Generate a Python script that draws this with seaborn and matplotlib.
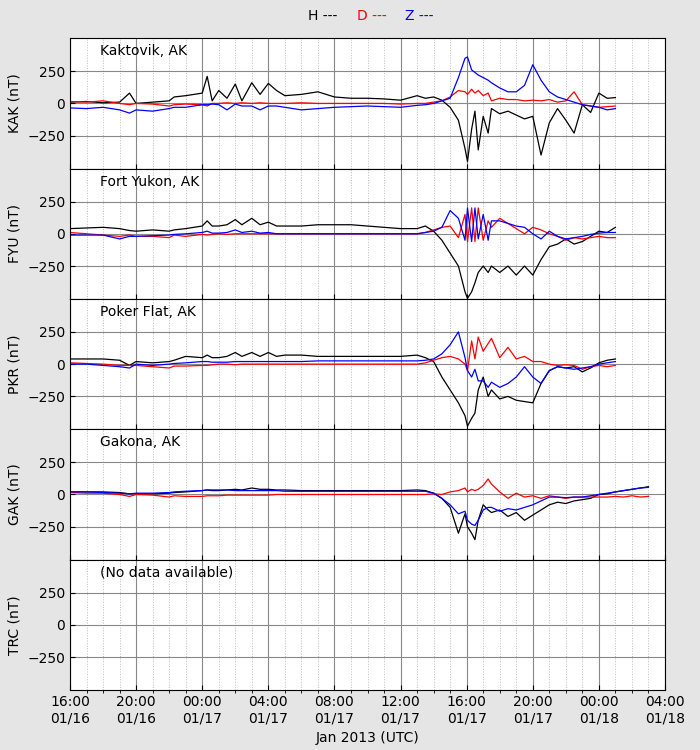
import numpy as np
import pandas as pd
import matplotlib
matplotlib.use("Agg")
import matplotlib.pyplot as plt
import seaborn as sns

nan = np.nan
# hours since 01/16 16:00 UTC
T = [0,1,2,3,3.6,4,5,6,6.3,7,8,8.3,8.6,9,9.5,10,10.4,11,11.5,12,12.5,13,14,15,16,17,18,19,20,21,
     21.5,22,22.5,23,23.5,23.9,24.05,24.3,24.5,24.7,25,25.3,25.5,26,26.5,27,27.5,28,28.5,29,29.5,30,
     30.5,31,31.5,32,32.5,33,33.5,34,34.5,35]

KAK_H = [10,15,5,10,80,0,10,20,50,60,80,210,20,100,40,150,20,160,70,155,100,60,70,90,50,40,40,35,25,60,
         40,50,25,-30,-130,-350,-450,-200,-60,-360,-100,-230,-40,-80,-60,-90,-120,-100,-400,-150,-40,-130,
         -230,-10,-70,80,40,45,nan,nan,nan,nan]
KAK_D = [15,10,20,0,-10,0,-5,-20,-10,-5,-10,-20,0,0,5,0,5,0,5,0,0,0,5,0,0,0,0,0,-5,0,
         0,10,20,50,100,90,70,110,80,100,60,80,20,40,30,30,20,25,20,30,10,20,
         90,-10,-20,-30,-25,-20,nan,nan,nan,nan]
KAK_Z = [-35,-40,-30,-50,-75,-50,-60,-40,-30,-30,-10,-10,-5,-10,-50,-5,-20,-20,-50,-20,-20,-30,-50,-40,-30,-25,-20,-25,-30,-15,
         -10,0,20,40,200,350,360,260,240,220,200,180,160,120,90,90,140,300,180,90,50,30,
         10,-10,-20,-30,-50,-40,nan,nan,nan,nan]

FYU_H = [40,45,50,40,25,20,30,20,30,40,60,100,60,60,70,110,70,120,70,90,60,60,60,70,70,70,60,50,40,40,
         60,20,-50,-150,-250,-450,-500,-450,-380,-300,-250,-300,-250,-300,-250,-320,-250,-320,-200,-100,-80,-40,
         -80,-60,-20,20,10,50,nan,nan,nan,nan]
FYU_D = [10,0,-10,-20,-10,-20,-20,-30,-10,-20,-5,-10,-5,0,-5,0,0,0,0,0,0,0,0,0,0,0,0,0,0,0,
         10,30,50,60,-30,150,-60,200,-60,200,-50,100,50,120,80,40,0,50,30,0,-20,-50,
         -30,-40,-30,-20,-30,-30,nan,nan,nan,nan]
FYU_Z = [-10,-10,-10,-40,-20,-20,-15,-10,-5,0,10,20,5,5,10,30,10,20,5,10,0,0,0,0,0,0,0,0,0,0,
         10,20,50,180,120,-50,200,-60,200,-40,150,-50,100,100,80,60,50,0,-40,20,-20,-40,
         -30,-20,-5,5,10,10,nan,nan,nan,nan]

PKR_H = [40,40,40,30,-10,20,10,20,30,60,50,70,50,50,60,90,60,90,60,90,60,70,70,60,60,60,60,60,60,70,
         50,20,-100,-200,-300,-400,-480,-420,-380,-200,-100,-250,-200,-270,-250,-280,-290,-300,-150,-50,-20,-30,
         -20,-60,-30,10,30,40,nan,nan,nan,nan]
PKR_D = [10,5,0,-10,-10,-10,-20,-30,-15,-15,-10,-10,-5,0,0,-5,0,0,0,0,0,0,0,0,0,0,0,0,0,0,
         10,30,50,60,40,0,-50,180,40,210,100,160,200,50,130,40,60,20,20,0,-10,-5,
         -10,-40,-20,-10,-20,-10,nan,nan,nan,nan]
PKR_Z = [0,0,-10,-20,-30,0,-10,0,5,10,20,20,15,15,15,20,20,20,20,20,20,20,20,25,25,25,25,25,25,25,
         30,40,80,150,250,50,-50,-100,-40,-130,-130,-180,-140,-180,-150,-100,-20,-100,-150,-50,-20,-30,
         -40,-30,-20,0,10,20,nan,nan,nan,nan]

GAK_H = [20,20,20,15,5,5,5,10,15,20,30,35,30,30,35,40,35,50,40,40,35,35,30,30,30,30,30,30,30,35,
         30,10,-30,-100,-300,-150,-250,-300,-350,-200,-80,-120,-140,-120,-170,-140,-200,-160,-120,-80,-60,-70,
         -50,-40,-30,0,5,20,30,40,50,60]
GAK_D = [15,10,10,0,-15,0,-5,-20,-10,-15,-15,-10,-10,-10,-5,-5,-5,-5,-5,-5,0,0,0,0,0,0,0,0,0,0,
         0,5,0,20,30,50,20,40,30,40,70,120,80,20,-30,10,-20,-10,-30,-10,-20,-30,
         -20,-20,-20,-20,-20,-15,-20,-10,-20,-15]
GAK_Z = [20,20,15,10,5,10,10,15,20,25,30,35,35,35,35,30,30,30,30,30,30,25,25,25,25,25,25,25,25,25,
         25,10,-30,-80,-150,-130,-200,-230,-240,-200,-120,-100,-100,-130,-110,-120,-100,-80,-50,-20,-20,-25,
         -20,-20,-10,0,10,20,30,40,50,55]

STATIONS = ["Kaktovik, AK", "Fort Yukon, AK", "Poker Flat, AK", "Gakona, AK", "(No data available)"]
CODES = ["KAK", "FYU", "PKR", "GAK", "TRC"]
SERIES = [(KAK_H, KAK_D, KAK_Z), (FYU_H, FYU_D, FYU_Z), (PKR_H, PKR_D, PKR_Z), (GAK_H, GAK_D, GAK_Z), None]
XTICK_LABELS = ["16:00\n01/16", "20:00\n01/16", "00:00\n01/17", "04:00\n01/17", "08:00\n01/17",
                "12:00\n01/17", "16:00\n01/17", "20:00\n01/17", "00:00\n01/18", "04:00\n01/18"]

fig = plt.figure(figsize=(7, 7.5), dpi=100, facecolor="#e5e5e5")
fig.subplots_adjust(left=0.1, right=0.95, top=0.949, bottom=0.08, hspace=0)
axes = fig.subplots(5, 1, sharex=True)
fig.subplots_adjust(left=0.1, right=0.95, top=0.949, bottom=0.08, hspace=0)
colors = ["black", "red", "blue"]
for ax, name, code, ser in zip(axes, STATIONS, CODES, SERIES):
    ax.set_facecolor("white")
    if ser is not None:
        for vals, c in zip(ser, colors):
            df = pd.DataFrame({"t": T, "v": vals}).dropna()
            sns.lineplot(data=df, x="t", y="v", color=c, lw=0.9, ax=ax)
    ax.set_xlim(0, 36)
    ax.set_ylim(-505, 505)
    ax.set_yticks([-250, 0, 250])
    ax.set_ylabel(f"{code} (nT)", fontsize=10)
    ax.set_xlabel("")
    ax.set_xticks(np.arange(0, 37, 4))
    ax.set_xticks(np.arange(0, 37, 1), minor=True)
    ax.grid(True, which="major", color="#888888", lw=0.8, ls="-")
    ax.grid(True, which="minor", axis="x", color="#bbbbbb", lw=0.7, ls=":")
    ax.set_axisbelow(True)
    ax.text(0.05, 0.9, name, transform=ax.transAxes, fontsize=10, va="center")
    ax.tick_params(direction="in", labelsize=10)
axes[-1].set_xticklabels(XTICK_LABELS)
axes[-1].set_xlabel("Jan 2013 (UTC)", fontsize=10)
fig.text(0.44, 0.973, "H ---", color="black", fontsize=10, ha="left")
fig.text(0.51, 0.973, "D ---", color="red", fontsize=10, ha="left")
fig.text(0.578, 0.973, "Z ---", color="blue", fontsize=10, ha="left")
fig.savefig("out.png", dpi=100, facecolor=fig.get_facecolor())
